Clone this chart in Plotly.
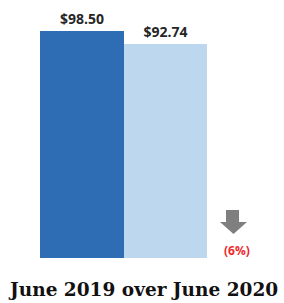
import plotly.graph_objects as go

categories = ["June 2019", "June 2020"]
values = [98.50, 92.74]
value_labels = ["$98.50", "$92.74"]
colors = ["#2E6DB4", "#BDD7EE"]
change_label = "(6%)"
title_text = "June 2019 over June 2020"

x_pos = [0, 1]
fig = go.Figure()
fig.add_trace(go.Bar(
    x=x_pos, y=values, width=1.0,
    marker=dict(color=colors, line=dict(width=0)),
    text=["<b>" + t + "</b>" for t in value_labels], textposition="outside",
    textfont=dict(family="Open Sans", size=14, color="#262626"),
    cliponaxis=False, hoverinfo="skip",
))

W, H = 284, 303
PH = 258  # plot-area height in px (paper units)
def px(x, y):
    return x / W, 1 - y / PH

# down arrow indicator
pts = [(226, 210), (239, 210), (239, 222), (247, 222), (233.5, 234), (220, 222), (226, 222)]
path = "M " + " L ".join(f"{px(a,b)[0]:.4f},{px(a,b)[1]:.4f}" for a, b in pts) + " Z"
fig.add_shape(type="path", path=path, xref="paper", yref="paper",
              fillcolor="#7F7F7F", line=dict(width=0))

fig.add_annotation(text="<b>" + change_label + "</b>", xref="paper", yref="paper",
                   x=px(237, 250)[0], y=px(237, 250)[1], showarrow=False,
                   xanchor="center", yanchor="middle",
                   font=dict(family="Open Sans", size=12, color="#F0282D"))

fig.add_annotation(text="<b>" + title_text + "</b>", xref="paper", yref="paper",
                   x=px(143, 289)[0], y=px(143, 289)[1], showarrow=False,
                   xanchor="center", yanchor="middle",
                   font=dict(family="DejaVu Serif", size=18.5, color="#111111"))

ppu_x = 83.5
cx0 = 82
ppu_y = 227 / 98.5
fig.update_layout(
    width=W, height=H,
    margin=dict(l=0, r=0, t=0, b=H - PH),
    paper_bgcolor="white", plot_bgcolor="white",
    showlegend=False,
    bargap=0,
    xaxis=dict(range=[-cx0 / ppu_x, (W - cx0) / ppu_x], visible=False, fixedrange=True),
    yaxis=dict(range=[0, PH / ppu_y], visible=False, fixedrange=True),
)
fig.write_html("out.html", config={"displayModeBar": False},
               post_script="document.body.style.margin='0';")
